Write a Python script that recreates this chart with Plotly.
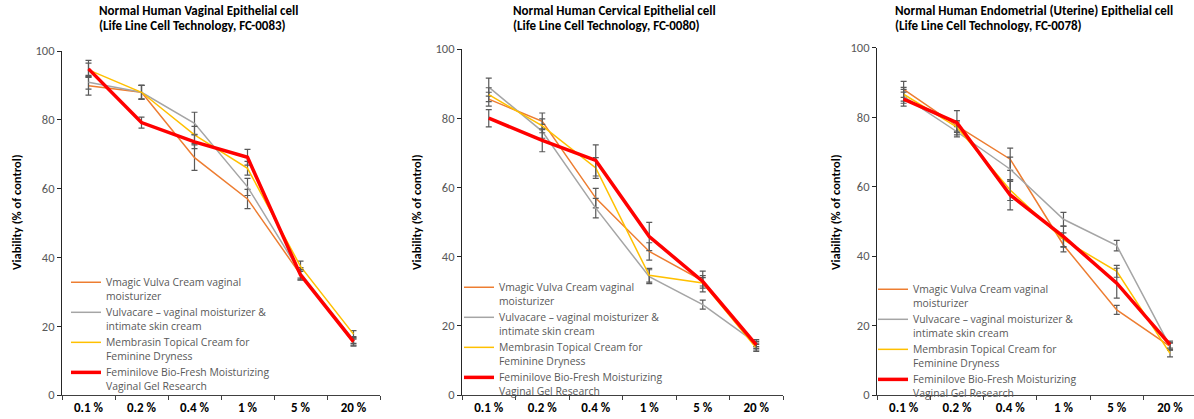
import plotly.graph_objects as go

categories = ["0.1 %", "0.2 %", "0.4 %", "1 %", "5 %", "20 %"]

series_names = [
    "Vmagic Vulva Cream vaginal<br>moisturizer",
    "Vulvacare – vaginal moisturizer &<br>intimate skin cream",
    "Membrasin Topical Cream for<br>Feminine Dryness",
    "Feminilove Bio-Fresh Moisturizing<br>Vaginal Gel Research",
]

title_lines = [
    ["Normal Human Vaginal Epithelial cell", "(Life Line Cell Technology, FC-0083)"],
    ["Normal Human Cervical Epithelial cell", "(Life Line Cell Technology, FC-0080)"],
    ["Normal Human Endometrial (Uterine) Epithelial cell", "(Life Line Cell Technology, FC-0078)"],
]

y_title = "Viability (% of control)"
y_ticks = [0, 20, 40, 60, 80, 100]

# Panel 1: Vaginal
vag_vmagic = [89.9, 88.0, 69.0, 57.0, 35.0, 15.2]
vag_vulvacare = [90.9, 88.0, 79.0, 60.5, 35.5, 16.0]
vag_membrasin = [94.5, 88.0, 75.6, 65.9, 37.4, 17.7]
vag_feminilove = [94.8, 79.2, 73.6, 69.1, 34.9, 15.5]
vag_vmagic_err = [2.7, 2.0, 3.7, 2.8, 1.5, 1.0]
vag_vulvacare_err = [2.0, 2.0, 3.2, 2.5, 1.5, 1.0]
vag_membrasin_err = [2.0, 2.0, 2.5, 2.0, 1.5, 1.0]
vag_feminilove_err = [2.5, 1.6, 2.0, 2.3, 1.5, 1.0]

# Panel 2: Cervical
cer_vmagic = [85.5, 79.1, 56.9, 41.5, 33.0, 14.0]
cer_vulvacare = [89.0, 76.2, 54.0, 34.2, 26.1, 15.0]
cer_membrasin = [86.8, 77.8, 65.6, 34.6, 32.4, 13.6]
cer_feminilove = [80.0, 73.6, 67.8, 45.8, 32.8, 14.5]
cer_vmagic_err = [2.0, 2.4, 2.8, 2.5, 1.5, 1.0]
cer_vulvacare_err = [2.6, 2.0, 2.8, 2.0, 1.3, 1.0]
cer_membrasin_err = [2.0, 2.0, 3.0, 2.0, 1.5, 1.0]
cer_feminilove_err = [2.5, 3.3, 4.5, 4.1, 3.0, 1.0]

# Panel 3: Endometrial
end_vmagic = [88.0, 77.5, 67.9, 43.2, 24.5, 14.0]
end_vulvacare = [86.0, 75.8, 65.0, 50.6, 43.0, 14.0]
end_membrasin = [86.6, 77.1, 59.0, 44.7, 35.6, 12.0]
end_feminilove = [85.2, 78.4, 57.6, 45.6, 32.2, 14.5]
end_vmagic_err = [2.3, 1.5, 3.2, 2.0, 1.3, 1.0]
end_vulvacare_err = [2.0, 1.5, 3.5, 2.0, 1.5, 1.0]
end_membrasin_err = [2.0, 1.5, 3.0, 2.0, 1.7, 1.0]
end_feminilove_err = [2.0, 3.5, 4.3, 3.0, 4.3, 1.0]

panels = [
    ([vag_vmagic, vag_vulvacare, vag_membrasin, vag_feminilove],
     [vag_vmagic_err, vag_vulvacare_err, vag_membrasin_err, vag_feminilove_err]),
    ([cer_vmagic, cer_vulvacare, cer_membrasin, cer_feminilove],
     [cer_vmagic_err, cer_vulvacare_err, cer_membrasin_err, cer_feminilove_err]),
    ([end_vmagic, end_vulvacare, end_membrasin, end_feminilove],
     [end_vmagic_err, end_vulvacare_err, end_membrasin_err, end_feminilove_err]),
]

colors = ["#ED7D31", "#A5A5A5", "#FFC000", "#FF0000"]
widths = [1.5, 1.5, 1.5, 3.5]

W, H = 1194, 419
FONT = "Carlito, Lato, sans-serif"
LEG_FONT = "Open Sans, sans-serif"

x_domains = [[62 / W, 380 / W], [462 / W, 783 / W], [877 / W, 1.0]]
x_ranges = [[-0.5, 5.5], [-0.5, 5.5], [-0.5, 5.45]]
y_tops = [51, 49, 47.7]
y_bottom = 395
legend_pos = [(66, 269), (459, 274), (873, 276)]
title_x = [97, 511, 893]
title_y = [11, 26]
ytitle_x = [17, 417, 836]
ytitle_y = 212

fig = go.Figure()
layout = dict(
    template="none",
    width=W, height=H,
    margin=dict(l=0, r=0, t=0, b=0, pad=0, autoexpand=False),
    paper_bgcolor="white", plot_bgcolor="white",
    font=dict(family=FONT),
    showlegend=True,
    annotations=[],
)

for p, (vals, errs) in enumerate(panels):
    sfx = "" if p == 0 else str(p + 1)
    leg = "legend" if p == 0 else "legend" + str(p + 1)
    for i in range(4):
        fig.add_trace(go.Scatter(
            x=categories, y=vals[i],
            mode="lines",
            name=series_names[i],
            line=dict(color=colors[i], width=widths[i]),
            error_y=dict(type="data", array=errs[i], visible=True,
                         color="#595959", thickness=1.2, width=3),
            xaxis="x" + sfx, yaxis="y" + sfx,
            legend=leg, hoverinfo="skip",
        ))
    layout["xaxis" + sfx] = dict(
        domain=x_domains[p], anchor="y" + sfx, automargin=False,
        type="category", categoryorder="array", categoryarray=categories,
        range=x_ranges[p],
        showline=True, linecolor="#404040", linewidth=1,
        ticks="outside", ticklen=4, tickcolor="#404040", tickson="boundaries",
        showgrid=False, zeroline=False,
        tickfont=dict(family=FONT, size=13, color="black", weight="bold"),
    )
    layout["yaxis" + sfx] = dict(
        domain=[1 - y_bottom / H, 1 - y_tops[p] / H], anchor="x" + sfx,
        automargin=False,
        range=[0, 100], tickvals=y_ticks,
        showline=True, linecolor="#262626", linewidth=1,
        ticks="outside", ticklen=4, tickcolor="#262626",
        showgrid=False, zeroline=False,
        tickfont=dict(family=FONT, size=12.5, color="#595959"),
    )
    lx, ly = legend_pos[p]
    layout[leg] = dict(
        x=lx / W, y=1 - ly / H, xref="paper", yref="paper",
        xanchor="left", yanchor="top",
        bgcolor="rgba(0,0,0,0)", valign="top",
        font=dict(family=LEG_FONT, size=10.4, color="#595959"),
        itemwidth=30, tracegroupgap=0,
    )
    for li, line in enumerate(title_lines[p]):
        layout["annotations"].append(dict(
            text="<b>" + line + "</b>",
            x=title_x[p] / W, y=1 - title_y[li] / H, xref="paper", yref="paper",
            xanchor="left", yanchor="middle", align="left", showarrow=False,
            font=dict(family=FONT, size=13, color="black"),
        ))
    layout["annotations"].append(dict(
        text="<b>" + y_title + "</b>", textangle=-90,
        x=ytitle_x[p] / W, y=1 - ytitle_y / H, xref="paper", yref="paper",
        xanchor="center", yanchor="middle", showarrow=False,
        font=dict(family=FONT, size=12.5, color="black"),
    ))

fig.update_layout(**layout)
fig.write_html("out.html", config={"displayModeBar": False},
               post_script="document.body.style.margin='0';")
